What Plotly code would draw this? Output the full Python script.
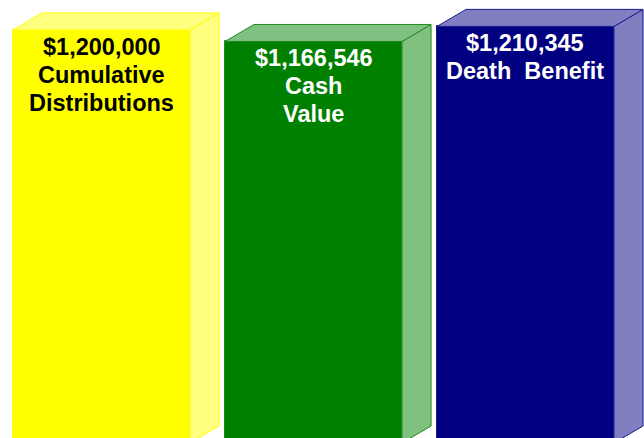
import plotly.graph_objects as go

# ---- data ----
categories = ["Cumulative Distributions", "Cash Value", "Death Benefit"]
values = [1200000, 1166546, 1210345]
value_labels = ["$1,200,000", "$1,166,546", "$1,210,345"]
name_lines = [["Cumulative", "Distributions"], ["Cash", "Value"], ["Death\u00a0 Benefit"]]

# ---- style ----
front_colors = ["#FFFF00", "#008000", "#000080"]
side_colors = ["#FFFF80", "#80C080", "#8080C0"]
edge_colors = ["#FFFF00", "#1E8C1E", "#1A1A8C"]
text_colors = ["#000000", "#FFFFFF", "#FFFFFF"]

BAR_W = 0.835
DEPTH_X = 0.137          # in x-axis units
DEPTH_Y = 49400          # in y-axis units
Y_RANGE = [14526, 1287042]
X_RANGE = [-0.4788, 2.5590]
FIRST_LINE_OFFSET = 17   # px below bar top
LINE_STEP = 28           # px between text lines
FONT_SIZE = 23.5

xs = list(range(len(categories)))

fig = go.Figure()

for i, (x, v) in enumerate(zip(xs, values)):
    xl, xr = x - BAR_W / 2, x + BAR_W / 2
    # side face
    fig.add_trace(go.Scatter(
        x=[xr, xr + DEPTH_X, xr + DEPTH_X, xr, xr],
        y=[0, DEPTH_Y, v + DEPTH_Y, v, 0],
        fill="toself", fillcolor=side_colors[i], mode="lines",
        line=dict(color=edge_colors[i], width=1), hoverinfo="skip"))
    # top face
    fig.add_trace(go.Scatter(
        x=[xl, xl + DEPTH_X, xr + DEPTH_X, xr, xl],
        y=[v, v + DEPTH_Y, v + DEPTH_Y, v, v],
        fill="toself", fillcolor=side_colors[i], mode="lines",
        line=dict(color=edge_colors[i], width=1), hoverinfo="skip"))

# front faces
fig.add_trace(go.Bar(
    x=xs, y=values, width=BAR_W,
    marker=dict(color=front_colors, line=dict(color=edge_colors, width=1)),
    hoverinfo="skip"))

for i, (x, v) in enumerate(zip(xs, values)):
    lines = [value_labels[i]] + name_lines[i]
    for j, line in enumerate(lines):
        fig.add_annotation(
            x=x, y=v, xref="x", yref="y", text="<b>" + line + "</b>", showarrow=False,
            yanchor="middle", xanchor="center",
            yshift=-(FIRST_LINE_OFFSET + j * LINE_STEP),
            font=dict(family="Liberation Sans, Arial, sans-serif", size=FONT_SIZE,
                      color=text_colors[i]),
            align="center")

fig.update_layout(
    width=644, height=438,
    margin=dict(l=0, r=0, t=0, b=0),
    paper_bgcolor="white", plot_bgcolor="white",
    showlegend=False, bargap=0,
    xaxis=dict(range=X_RANGE, visible=False, fixedrange=True),
    yaxis=dict(range=Y_RANGE, visible=False, fixedrange=True),
)

fig.write_html("out.html")
